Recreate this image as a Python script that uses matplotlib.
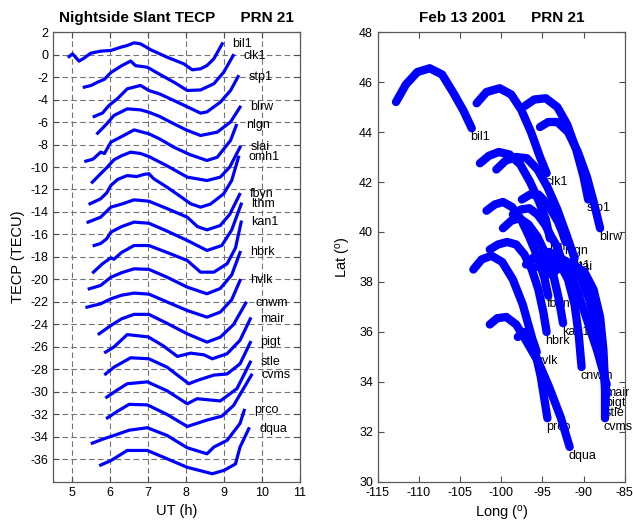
import numpy as np
import matplotlib
matplotlib.use("Agg")
import matplotlib.pyplot as plt

plt.rcParams["font.family"] = ["Liberation Sans", "DejaVu Sans"]
plt.rcParams["axes.unicode_minus"] = False
plt.rcParams["mathtext.fontset"] = "custom"
plt.rcParams["mathtext.rm"] = "Liberation Sans"
plt.rcParams["mathtext.it"] = "Liberation Sans"

STATIONS = ["bil1", "clk1", "stp1", "blrw", "nlgn", "slai", "omh1", "fbyn", "lthm",
            "kan1", "hbrk", "hvlk", "cnwm", "mair", "pigt", "stle", "cvms", "prco", "dqua"]

# ---- left panel: slant TEC (offset by station), UT hours ----
bil1_ut = [4.92, 5.01, 5.18, 5.3, 5.49, 5.75, 6.02, 6.28, 6.45, 6.63, 6.8, 7.07, 7.5, 7.94, 8.16, 8.38, 8.55, 8.73, 8.95]
bil1_tec = [-0.18, 0.06, -0.59, -0.35, 0.12, 0.3, 0.36, 0.65, 0.8, 1.04, 0.95, 0.42, -0.24, -0.83, -1.36, -1.27, -0.98, -0.38, 0.95]
clk1_ut = [5.32, 5.5, 5.67, 5.85, 6.02, 6.3, 6.54, 6.67, 6.98, 7.3, 7.7, 8.03, 8.38, 8.73, 8.99, 9.24]
clk1_tec = [-2.9, -2.75, -2.46, -2.2, -1.6, -1.0, -0.58, -0.99, -1.13, -1.75, -2.5, -3.2, -3.15, -2.6, -1.57, -0.09]
stp1_ut = [5.58, 5.8, 5.95, 6.02, 6.2, 6.45, 6.8, 7.02, 7.3, 7.68, 8.0, 8.38, 8.55, 8.9, 9.17, 9.37]
stp1_tec = [-5.51, -5.2, -4.6, -4.39, -3.9, -3.05, -2.75, -3.2, -3.5, -4.09, -4.6, -5.21, -5.1, -4.24, -3.2, -1.96]
blrw_ut = [5.67, 5.9, 6.1, 6.45, 6.8, 7.02, 7.3, 7.59, 8.0, 8.38, 8.82, 9.17, 9.42]
blrw_tec = [-7.0, -6.2, -5.42, -4.83, -4.92, -5.13, -5.5, -6.01, -6.7, -7.2, -6.9, -6.0, -4.68]
nlgn_ut = [5.36, 5.55, 5.75, 5.85, 6.02, 6.3, 6.63, 7.02, 7.3, 7.68, 8.1, 8.55, 8.82, 9.17, 9.32]
nlgn_tec = [-9.48, -9.3, -8.68, -8.8, -7.79, -7.3, -6.7, -7.05, -7.5, -8.24, -8.9, -9.42, -9.13, -7.64, -6.31]
slai_ut = [5.53, 5.75, 5.9, 6.1, 6.3, 6.54, 6.8, 7.02, 7.5, 8.03, 8.55, 8.9, 9.15, 9.42]
slai_tec = [-11.35, -10.6, -10.1, -9.36, -9.0, -8.68, -8.8, -9.07, -9.9, -10.9, -11.2, -10.9, -10.0, -8.24]
omh1_ut = [5.47, 5.75, 5.91, 6.02, 6.2, 6.45, 6.7, 6.9, 7.02, 7.15, 7.5, 7.8, 8.12, 8.38, 8.64, 8.99, 9.2, 9.38]
omh1_tec = [-13.27, -12.83, -12.3, -11.64, -11.1, -10.76, -10.85, -10.65, -10.6, -11.05, -11.8, -12.5, -13.27, -13.57, -13.3, -12.38, -11.2, -9.13]
fbyn_ut = [5.42, 5.75, 6.02, 6.3, 6.63, 7.02, 7.5, 8.03, 8.3, 8.55, 8.9, 9.15, 9.41]
fbyn_tec = [-14.9, -14.46, -13.57, -13.3, -12.92, -13.04, -13.7, -14.46, -15.3, -15.59, -15.2, -14.2, -12.44]
lthm_ut = [5.58, 5.75, 5.91, 6.02, 6.3, 6.63, 7.02, 7.5, 8.03, 8.55, 8.94, 9.2, 9.45]
lthm_tec = [-16.98, -16.8, -16.38, -15.79, -15.3, -14.9, -15.0, -15.7, -16.53, -17.42, -16.98, -15.6, -13.3]
kan1_ut = [5.56, 5.8, 6.02, 6.1, 6.3, 6.63, 7.02, 7.5, 8.03, 8.38, 8.73, 9.08, 9.3, 9.45]
kan1_tec = [-19.35, -18.6, -18.07, -18.2, -17.6, -16.98, -16.98, -17.6, -18.31, -19.35, -19.35, -18.6, -17.2, -14.9]
hbrk_ut = [5.45, 5.75, 6.02, 6.3, 6.63, 7.02, 7.5, 8.03, 8.55, 8.9, 9.2, 9.42]
hbrk_tec = [-20.83, -20.53, -19.8, -19.4, -19.05, -19.1, -19.8, -20.68, -21.27, -20.8, -19.6, -17.6]
hvlk_ut = [5.39, 5.75, 6.02, 6.3, 6.63, 7.02, 7.5, 8.03, 8.55, 8.9, 9.2, 9.42]
hvlk_tec = [-22.46, -22.16, -21.72, -21.4, -21.21, -21.3, -22.0, -22.76, -23.35, -22.9, -21.8, -20.09]
cnwm_ut = [5.71, 6.02, 6.3, 6.63, 7.02, 7.5, 8.03, 8.55, 8.9, 9.25, 9.57]
cnwm_tec = [-24.83, -24.09, -23.5, -23.1, -23.1, -23.9, -24.83, -25.57, -25.13, -24.0, -22.1]
mair_ut = [5.88, 6.1, 6.45, 7.0, 7.4, 7.77, 8.12, 8.47, 8.69, 9.08, 9.42, 9.69]
mair_tec = [-26.46, -26.0, -24.9, -25.1, -25.9, -26.84, -26.55, -26.7, -27.05, -26.6, -25.4, -23.5]
pigt_ut = [5.88, 6.1, 6.54, 7.02, 7.5, 8.07, 8.29, 8.73, 9.08, 9.42, 9.69]
pigt_tec = [-28.4, -27.8, -26.96, -27.05, -27.8, -29.27, -28.98, -28.5, -28.4, -27.5, -25.6]
stle_ut = [5.91, 6.2, 6.45, 6.98, 7.5, 8.03, 8.29, 8.9, 9.34, 9.69]
stle_tec = [-30.46, -29.8, -29.27, -29.1, -29.9, -31.05, -30.6, -30.8, -29.7, -27.35]
cvms_ut = [5.93, 6.2, 6.5, 6.98, 7.5, 8.03, 8.55, 8.94, 9.25, 9.72]
cvms_tec = [-32.3, -31.7, -31.1, -31.15, -32.0, -33.07, -32.5, -32.15, -31.2, -28.5]
prco_ut = [5.53, 5.8, 6.1, 6.5, 6.98, 7.5, 8.03, 8.55, 8.73, 9.08, 9.42, 9.53]
prco_tec = [-34.55, -34.2, -33.87, -33.4, -33.18, -33.87, -34.96, -35.5, -34.9, -34.3, -32.8, -31.64]
dqua_ut = [5.75, 6.02, 6.45, 6.98, 7.5, 8.03, 8.69, 9.0, 9.3, 9.42, 9.65]
dqua_tec = [-36.5, -36.1, -35.2, -35.2, -35.94, -36.7, -37.27, -36.97, -36.4, -34.9, -33.27]

# ---- right panel: pierce point tracks (longitude, latitude) ----
bil1_lon = [-112.8, -111.6, -110.2, -108.7, -107.2, -105.8, -104.6, -103.6]
bil1_lat = [45.2, 45.9, 46.4, 46.55, 46.3, 45.55, 44.85, 44.15]
clk1_lon = [-103.0, -101.8, -100.2, -98.8, -97.6, -96.4, -95.3, -94.5]
clk1_lat = [45.15, 45.6, 45.75, 45.5, 44.9, 44.0, 43.0, 42.35]
stp1_lon = [-97.1, -96.0, -94.6, -93.2, -92.0, -90.9, -90.0, -89.45]
stp1_lat = [45.05, 45.3, 45.35, 45.0, 44.3, 43.3, 42.2, 41.3]
blrw_lon = [-95.3, -94.3, -93.2, -91.9, -90.7, -89.6, -88.7, -88.0]
blrw_lat = [44.2, 44.4, 44.4, 44.0, 43.2, 42.2, 41.1, 40.15]
nlgn_lon = [-97.5, -96.5, -95.5, -94.6, -93.8, -93.1, -92.6, -92.2]
nlgn_lat = [41.3, 41.5, 41.5, 41.2, 40.8, 40.4, 40.0, 39.6]
slai_lon = [-100.6, -99.5, -98.2, -96.9, -95.6, -94.4, -93.2, -92.1, -91.1]
slai_lat = [42.5, 42.85, 43.0, 42.95, 42.5, 41.8, 40.9, 39.9, 38.95]
omh1_lon = [-98.6, -97.6, -96.6, -95.6, -94.7, -93.9, -93.2, -92.8]
omh1_lat = [40.7, 40.9, 40.95, 40.7, 40.3, 39.8, 39.4, 39.0]
fbyn_lon = [-101.8, -100.8, -99.8, -98.7, -97.6, -96.6, -95.6, -94.8, -94.3]
fbyn_lat = [40.85, 41.1, 41.2, 41.0, 40.5, 39.8, 39.0, 38.2, 37.45]
lthm_lon = [-102.6, -101.5, -100.3, -99.0, -97.7, -96.5, -95.4, -94.6, -94.1]
lthm_lat = [42.75, 43.05, 43.2, 43.1, 42.7, 42.0, 41.2, 40.5, 39.75]
kan1_lon = [-99.8, -98.8, -97.8, -96.7, -95.6, -94.6, -93.7, -93.0, -92.5]
kan1_lat = [40.15, 40.45, 40.55, 40.3, 39.8, 39.1, 38.3, 37.3, 36.35]
hbrk_lon = [-101.4, -100.4, -99.3, -98.2, -97.2, -96.3, -95.5, -94.9, -94.5]
hbrk_lat = [39.3, 39.5, 39.6, 39.5, 39.1, 38.5, 37.7, 36.8, 36.0]
hvlk_lon = [-98.0, -97.3, -96.6, -96.1, -95.7]
hvlk_lat = [35.8, 36.0, 35.9, 35.6, 35.2]
cnwm_lon = [-97.0, -95.8, -94.4, -93.0, -91.9, -91.1, -90.6, -90.25]
cnwm_lat = [38.7, 39.0, 39.1, 38.8, 38.1, 37.1, 35.9, 34.6]
mair_lon = [-96.8, -95.6, -94.2, -92.9, -91.7, -90.6, -89.5, -88.3, -87.2]
mair_lat = [38.8, 39.1, 39.2, 38.95, 38.4, 37.5, 36.4, 35.2, 33.9]
pigt_lon = [-95.7, -94.5, -93.1, -91.7, -90.4, -89.3, -88.4, -87.7, -87.2]
pigt_lat = [38.6, 38.9, 39.0, 38.75, 38.2, 37.3, 36.1, 34.8, 33.5]
stle_lon = [-94.9, -93.7, -92.3, -90.9, -89.7, -88.7, -88.0, -87.5, -87.3]
stle_lat = [38.45, 38.75, 38.85, 38.6, 38.0, 37.0, 35.7, 34.4, 33.1]
cvms_lon = [-94.0, -92.8, -91.3, -89.9, -88.8, -88.0, -87.6, -87.4, -87.4]
cvms_lat = [38.3, 38.6, 38.7, 38.4, 37.7, 36.6, 35.3, 33.9, 32.55]
prco_lon = [-103.4, -102.4, -101.2, -99.9, -98.6, -97.4, -96.3, -95.2, -94.4]
prco_lat = [38.5, 38.9, 39.05, 38.8, 38.1, 37.1, 35.8, 34.2, 32.55]
dqua_lon = [-101.4, -100.5, -99.4, -98.2, -96.9, -95.5, -94.2, -92.8, -91.7]
dqua_lat = [36.3, 36.55, 36.6, 36.3, 35.6, 34.8, 33.8, 32.6, 31.4]

g = globals()
BLUE = "#0000ff"
GRID = dict(color="0.45", lw=0.8, dashes=(5, 3))

fig = plt.figure(figsize=(6.33, 5.25), dpi=100)
ax1 = fig.add_axes([0.084, 0.082, 0.390, 0.857])
ax2 = fig.add_axes([0.597, 0.082, 0.390, 0.857])

# left: slant TEC curves
for s in STATIONS:
    ut, tec = g[s + "_ut"], g[s + "_tec"]
    ax1.plot(ut, tec, color=BLUE, lw=2.3, zorder=3)
    ax1.text(ut[-1] + 0.27, tec[-1], s, fontsize=9, va="center", ha="left", zorder=4)

ax1.set_xlim(4.5, 11)
ax1.set_ylim(-38, 2)
ax1.set_xticks(range(5, 12))
ax1.set_yticks(np.arange(-36, 3, 2))
for xv in range(5, 11):
    ax1.axvline(xv, zorder=1, **GRID)
for yv in range(-36, 1, 2):
    ax1.axhline(yv, zorder=1, **GRID)
ax1.set_xlabel("UT (h)", fontsize=10.5)
ax1.set_ylabel("TECP (TECU)", fontsize=10.5)
ax1.set_title("Nightside Slant TECP      PRN 21", fontsize=11, fontweight="bold", pad=7)

# right: pierce point tracks
for s in STATIONS:
    lon, lat = g[s + "_lon"], g[s + "_lat"]
    ax2.plot(lon, lat, color=BLUE, lw=6, solid_capstyle="round",
             solid_joinstyle="round", zorder=3)
    ax2.text(lon[-1] - 0.15, lat[-1] - 0.35, s, fontsize=9, va="center",
             ha="left", zorder=2)

ax2.set_xlim(-115, -85)
ax2.set_ylim(30, 48)
ax2.set_xticks(range(-115, -84, 5))
ax2.set_yticks(range(30, 49, 2))
ax2.set_xlabel(r"Long ($^{\rm o}$)", fontsize=10.5)
ax2.set_ylabel(r"Lat ($^{\rm o}$)", fontsize=10.5)
ax2.set_title("Feb 13 2001      PRN 21", fontsize=11, fontweight="bold", pad=7)

for ax in (ax1, ax2):
    ax.tick_params(direction="in", top=True, right=True, length=4,
                   labelsize=9, color="0.3")
    for sp in ax.spines.values():
        sp.set_color("0.35")
        sp.set_linewidth(0.9)

fig.savefig("out.png", dpi=100)
